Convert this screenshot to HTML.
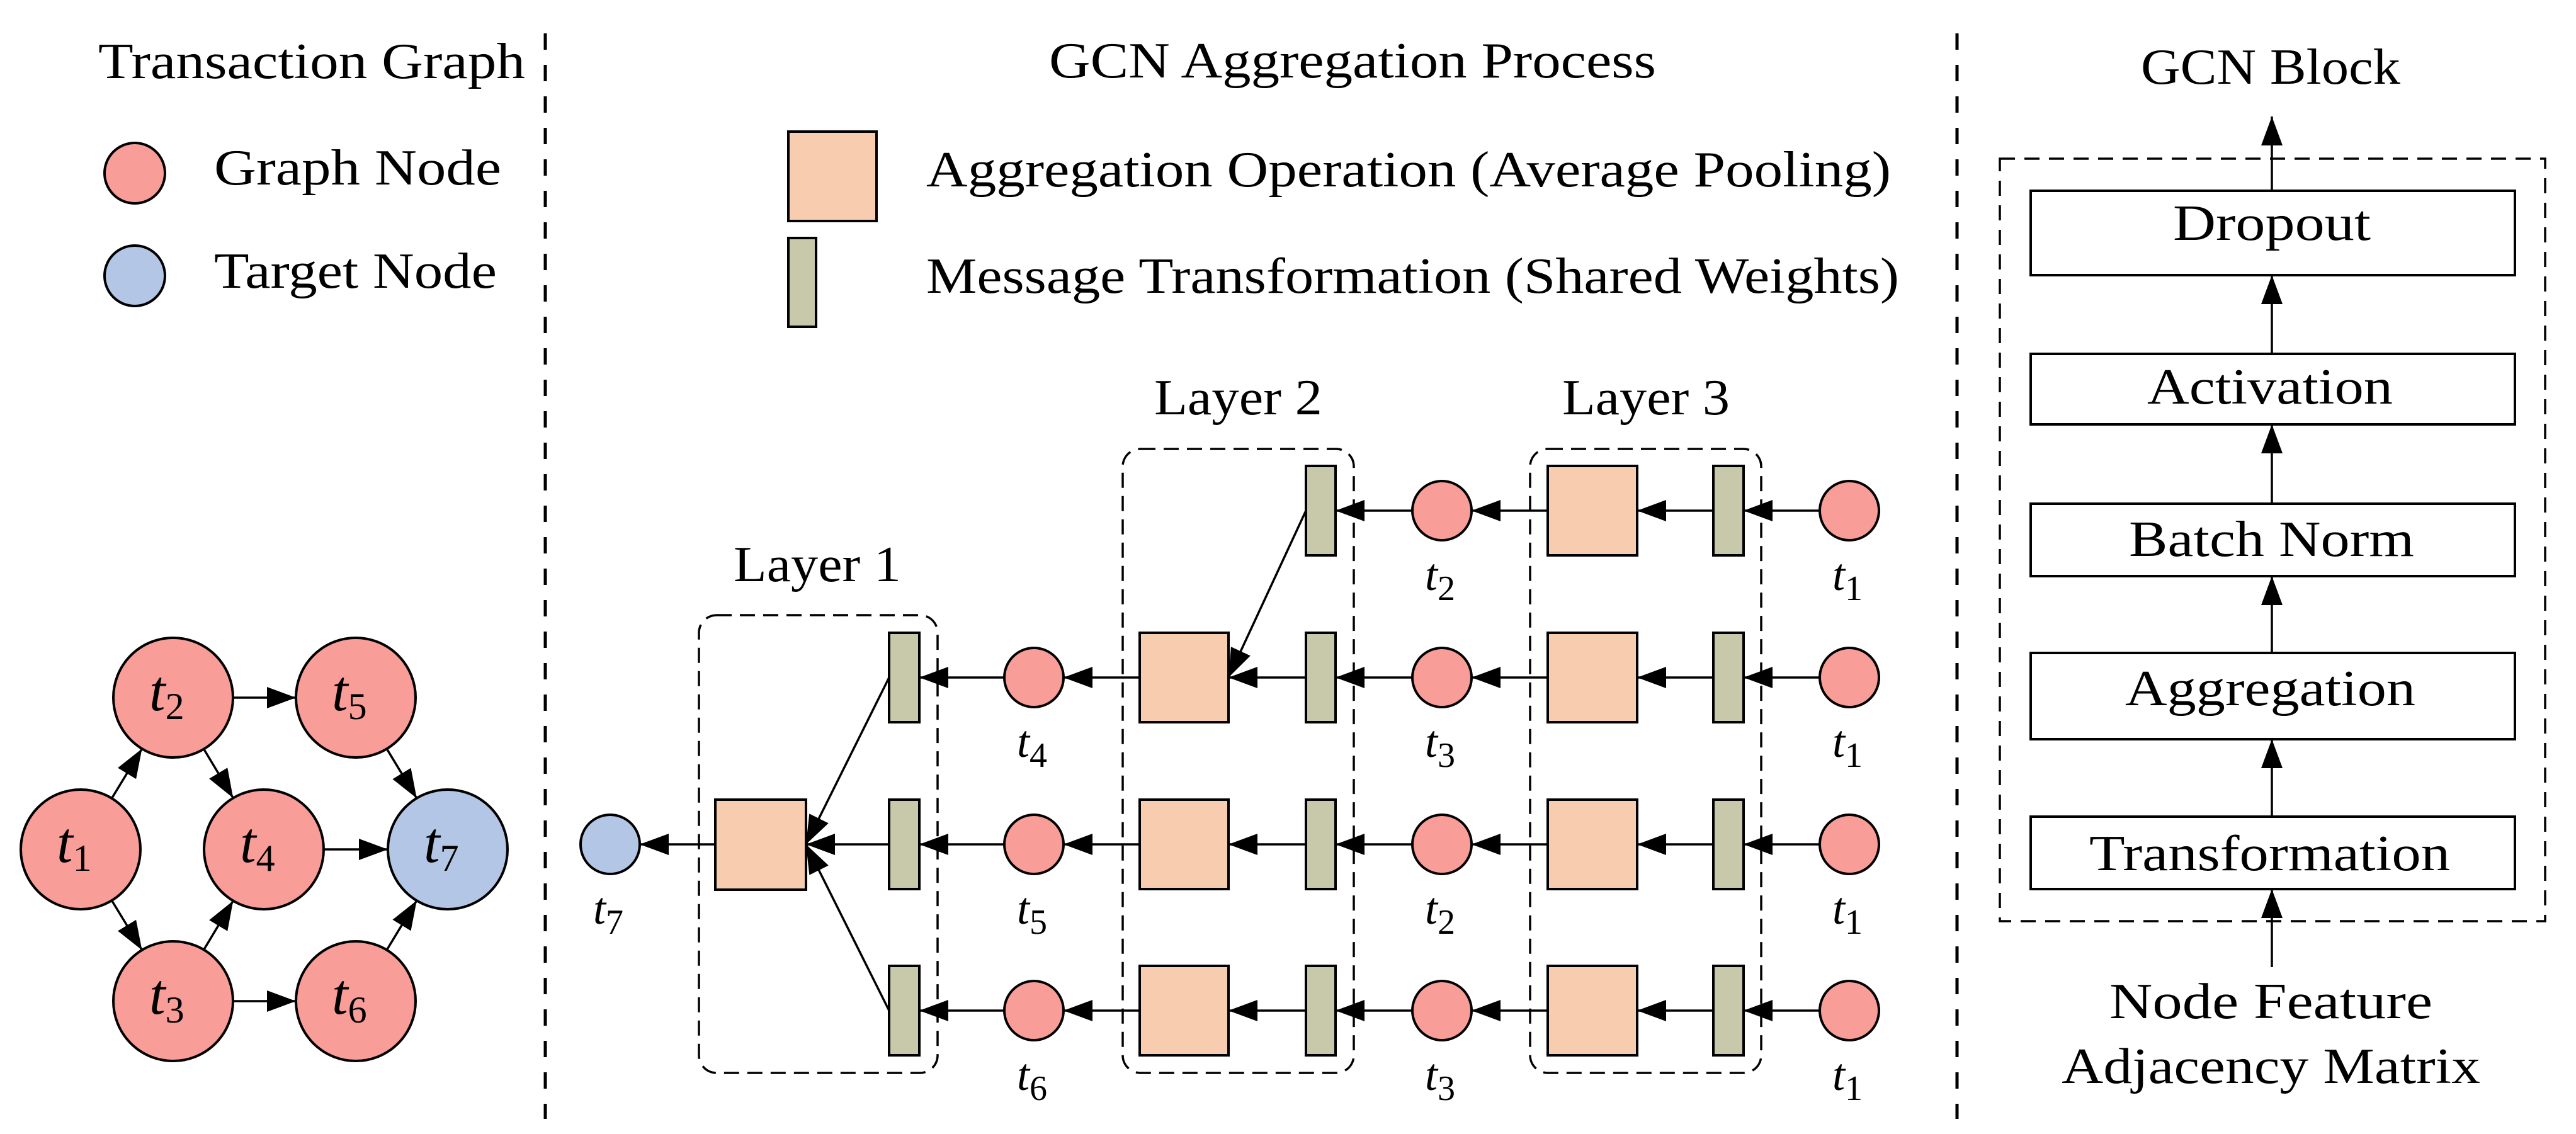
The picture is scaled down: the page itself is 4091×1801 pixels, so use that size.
<!DOCTYPE html>
<html><head><meta charset="utf-8"><style>
html,body{margin:0;padding:0;background:#fff;}
svg{display:block;}
text,tspan{font-family:"Liberation Serif",serif;fill:#000;}
.it{font-style:italic;font-family:"Liberation Serif",serif;}
</style></head><body>
<svg width="4091" height="1801" viewBox="0 0 4091 1801" xmlns="http://www.w3.org/2000/svg">
<defs>
<marker id="a" markerUnits="userSpaceOnUse" markerWidth="46" markerHeight="34" refX="46" refY="17" orient="auto">
<path d="M0,0 L46,17 L0,34 z" fill="#000"/>
</marker>
</defs>
<rect width="4091" height="1801" fill="#fff"/>

<line x1="866" y1="53" x2="866" y2="1777" stroke="#000" stroke-width="5" stroke-dasharray="26 24"/>
<line x1="3108" y1="53" x2="3108" y2="1777" stroke="#000" stroke-width="5" stroke-dasharray="26 24"/>

<text x="156" y="124" font-size="80" textLength="678" lengthAdjust="spacingAndGlyphs">Transaction Graph</text>
<circle cx="214" cy="275" r="48" fill="#F99D98" stroke="#000" stroke-width="4"/>
<text x="340" y="293" font-size="80" textLength="456" lengthAdjust="spacingAndGlyphs">Graph Node</text>
<circle cx="214" cy="438" r="48" fill="#B3C6E5" stroke="#000" stroke-width="4"/>
<text x="340" y="457" font-size="80" textLength="449" lengthAdjust="spacingAndGlyphs">Target Node</text>

<g stroke="#000" stroke-width="3.5" marker-end="url(#a)">
<line x1="177.5" y1="1267.9" x2="225.5" y2="1189.1"/>
<line x1="177.5" y1="1430.1" x2="225.5" y2="1508.9"/>
<line x1="323.7" y1="1189.6" x2="370.3" y2="1267.4"/>
<line x1="323.7" y1="1508.4" x2="370.3" y2="1430.6"/>
<line x1="370" y1="1108" x2="470" y2="1108"/>
<line x1="370" y1="1590" x2="470" y2="1590"/>
<line x1="514" y1="1349" x2="616" y2="1349"/>
<line x1="614.2" y1="1189.2" x2="661.8" y2="1267.8"/>
<line x1="614.2" y1="1508.8" x2="661.8" y2="1430.2"/>
</g>
<g stroke="#000" stroke-width="4">
<circle cx="128" cy="1349" r="95" fill="#F99D98"/>
<circle cx="275" cy="1108" r="95" fill="#F99D98"/>
<circle cx="275" cy="1590" r="95" fill="#F99D98"/>
<circle cx="419" cy="1349" r="95" fill="#F99D98"/>
<circle cx="565" cy="1108" r="95" fill="#F99D98"/>
<circle cx="565" cy="1590" r="95" fill="#F99D98"/>
<circle cx="711" cy="1349" r="95" fill="#B3C6E5"/>
</g>
<g font-size="92">
<text x="90" y="1369"><tspan class="it">t</tspan><tspan font-size="60" dy="14">1</tspan></text>
<text x="237" y="1128"><tspan class="it">t</tspan><tspan font-size="60" dy="14">2</tspan></text>
<text x="237" y="1610"><tspan class="it">t</tspan><tspan font-size="60" dy="14">3</tspan></text>
<text x="381" y="1369"><tspan class="it">t</tspan><tspan font-size="60" dy="14">4</tspan></text>
<text x="527" y="1128"><tspan class="it">t</tspan><tspan font-size="60" dy="14">5</tspan></text>
<text x="527" y="1610"><tspan class="it">t</tspan><tspan font-size="60" dy="14">6</tspan></text>
<text x="673" y="1369"><tspan class="it">t</tspan><tspan font-size="60" dy="14">7</tspan></text>
</g>

<text x="1666" y="123" font-size="80" textLength="964" lengthAdjust="spacingAndGlyphs">GCN Aggregation Process</text>
<rect x="1252" y="209" width="140" height="142" fill="#F8CDAF" stroke="#000" stroke-width="4"/>
<text x="1471" y="296" font-size="80" textLength="1532" lengthAdjust="spacingAndGlyphs">Aggregation Operation (Average Pooling)</text>
<rect x="1252" y="378" width="44" height="141" fill="#C8C8AA" stroke="#000" stroke-width="4"/>
<text x="1471" y="465" font-size="80" textLength="1545" lengthAdjust="spacingAndGlyphs">Message Transformation (Shared Weights)</text>

<text x="1165" y="923" font-size="80" textLength="266" lengthAdjust="spacingAndGlyphs">Layer 1</text>
<text x="1833" y="658" font-size="80" textLength="267" lengthAdjust="spacingAndGlyphs">Layer 2</text>
<text x="2481" y="658" font-size="80" textLength="266" lengthAdjust="spacingAndGlyphs">Layer 3</text>

<g fill="none" stroke="#000" stroke-width="3.5" stroke-dasharray="24 13">
<rect x="1110" y="977" width="379" height="727" rx="28"/>
<rect x="1783" y="713" width="367" height="991" rx="28"/>
<rect x="2430" y="713" width="367" height="991" rx="28"/>
</g>

<g stroke="#000" stroke-width="3.5" marker-end="url(#a)">
<line x1="2890" y1="811" x2="2769" y2="811"/>
<line x1="2721" y1="811" x2="2600" y2="811"/>
<line x1="2458" y1="811" x2="2337" y2="811"/>
<line x1="2243" y1="811" x2="2121" y2="811"/>
<line x1="2074" y1="811" x2="1951" y2="1076"/>

<line x1="2890" y1="1076" x2="2769" y2="1076"/>
<line x1="2721" y1="1076" x2="2600" y2="1076"/>
<line x1="2458" y1="1076" x2="2337" y2="1076"/>
<line x1="2243" y1="1076" x2="2121" y2="1076"/>
<line x1="2074" y1="1076" x2="1951" y2="1076"/>
<line x1="1810" y1="1076" x2="1689" y2="1076"/>
<line x1="1595" y1="1076" x2="1460" y2="1076"/>

<line x1="2890" y1="1341" x2="2769" y2="1341"/>
<line x1="2721" y1="1341" x2="2600" y2="1341"/>
<line x1="2458" y1="1341" x2="2337" y2="1341"/>
<line x1="2243" y1="1341" x2="2121" y2="1341"/>
<line x1="2074" y1="1341" x2="1951" y2="1341"/>
<line x1="1810" y1="1341" x2="1689" y2="1341"/>
<line x1="1595" y1="1341" x2="1460" y2="1341"/>

<line x1="2890" y1="1605" x2="2769" y2="1605"/>
<line x1="2721" y1="1605" x2="2600" y2="1605"/>
<line x1="2458" y1="1605" x2="2337" y2="1605"/>
<line x1="2243" y1="1605" x2="2121" y2="1605"/>
<line x1="2074" y1="1605" x2="1951" y2="1605"/>
<line x1="1810" y1="1605" x2="1689" y2="1605"/>
<line x1="1595" y1="1605" x2="1460" y2="1605"/>

<line x1="1412" y1="1076" x2="1280" y2="1341"/>
<line x1="1412" y1="1341" x2="1280" y2="1341"/>
<line x1="1412" y1="1605" x2="1280" y2="1341"/>
<line x1="1136" y1="1341" x2="1016" y2="1341"/>
</g>

<g stroke="#000" stroke-width="4">
<circle cx="2937" cy="811" r="47" fill="#F99D98"/>
<circle cx="2937" cy="1076" r="47" fill="#F99D98"/>
<circle cx="2937" cy="1341" r="47" fill="#F99D98"/>
<circle cx="2937" cy="1605" r="47" fill="#F99D98"/>
<rect x="2721" y="740" width="48" height="142" fill="#C8C8AA"/>
<rect x="2721" y="1005" width="48" height="142" fill="#C8C8AA"/>
<rect x="2721" y="1270" width="48" height="142" fill="#C8C8AA"/>
<rect x="2721" y="1534" width="48" height="142" fill="#C8C8AA"/>
<rect x="2458" y="740" width="142" height="142" fill="#F8CDAF"/>
<rect x="2458" y="1005" width="142" height="142" fill="#F8CDAF"/>
<rect x="2458" y="1270" width="142" height="142" fill="#F8CDAF"/>
<rect x="2458" y="1534" width="142" height="142" fill="#F8CDAF"/>
<circle cx="2290" cy="811" r="47" fill="#F99D98"/>
<circle cx="2290" cy="1076" r="47" fill="#F99D98"/>
<circle cx="2290" cy="1341" r="47" fill="#F99D98"/>
<circle cx="2290" cy="1605" r="47" fill="#F99D98"/>
<rect x="2074" y="740" width="47" height="142" fill="#C8C8AA"/>
<rect x="2074" y="1005" width="47" height="142" fill="#C8C8AA"/>
<rect x="2074" y="1270" width="47" height="142" fill="#C8C8AA"/>
<rect x="2074" y="1534" width="47" height="142" fill="#C8C8AA"/>
<rect x="1810" y="1005" width="141" height="142" fill="#F8CDAF"/>
<rect x="1810" y="1270" width="141" height="142" fill="#F8CDAF"/>
<rect x="1810" y="1534" width="141" height="142" fill="#F8CDAF"/>
<circle cx="1642" cy="1076" r="47" fill="#F99D98"/>
<circle cx="1642" cy="1341" r="47" fill="#F99D98"/>
<circle cx="1642" cy="1605" r="47" fill="#F99D98"/>
<rect x="1412" y="1005" width="48" height="142" fill="#C8C8AA"/>
<rect x="1412" y="1270" width="48" height="142" fill="#C8C8AA"/>
<rect x="1412" y="1534" width="48" height="142" fill="#C8C8AA"/>
<rect x="1136" y="1270" width="144" height="143" fill="#F8CDAF"/>
<circle cx="969" cy="1341" r="47" fill="#B3C6E5"/>
</g>

<g font-size="72">
<text x="2910" y="937"><tspan class="it">t</tspan><tspan font-size="56" dy="16">1</tspan></text>
<text x="2910" y="1202"><tspan class="it">t</tspan><tspan font-size="56" dy="16">1</tspan></text>
<text x="2910" y="1467"><tspan class="it">t</tspan><tspan font-size="56" dy="16">1</tspan></text>
<text x="2910" y="1731"><tspan class="it">t</tspan><tspan font-size="56" dy="16">1</tspan></text>
<text x="2263" y="937"><tspan class="it">t</tspan><tspan font-size="56" dy="16">2</tspan></text>
<text x="2263" y="1202"><tspan class="it">t</tspan><tspan font-size="56" dy="16">3</tspan></text>
<text x="2263" y="1467"><tspan class="it">t</tspan><tspan font-size="56" dy="16">2</tspan></text>
<text x="2263" y="1731"><tspan class="it">t</tspan><tspan font-size="56" dy="16">3</tspan></text>
<text x="1615" y="1202"><tspan class="it">t</tspan><tspan font-size="56" dy="16">4</tspan></text>
<text x="1615" y="1467"><tspan class="it">t</tspan><tspan font-size="56" dy="16">5</tspan></text>
<text x="1615" y="1731"><tspan class="it">t</tspan><tspan font-size="56" dy="16">6</tspan></text>
<text x="942" y="1467"><tspan class="it">t</tspan><tspan font-size="56" dy="16">7</tspan></text>
</g>

<text x="3400" y="133" font-size="80" textLength="412" lengthAdjust="spacingAndGlyphs">GCN Block</text>
<rect x="3176" y="252" width="866" height="1211" fill="none" stroke="#000" stroke-width="3.5" stroke-dasharray="24 15"/>
<g fill="#fff" stroke="#000" stroke-width="4">
<rect x="3225" y="303" width="769" height="134"/>
<rect x="3225" y="562" width="769" height="112"/>
<rect x="3225" y="800" width="769" height="115"/>
<rect x="3225" y="1037" width="769" height="137"/>
<rect x="3225" y="1297" width="769" height="115"/>
</g>
<g stroke="#000" stroke-width="3.5" marker-end="url(#a)">
<line x1="3608" y1="303" x2="3608" y2="185"/>
<line x1="3608" y1="562" x2="3608" y2="437"/>
<line x1="3608" y1="800" x2="3608" y2="674"/>
<line x1="3608" y1="1037" x2="3608" y2="915"/>
<line x1="3608" y1="1297" x2="3608" y2="1174"/>
<line x1="3608" y1="1536" x2="3608" y2="1412"/>
</g>
<g font-size="80">
<text x="3451" y="381" textLength="314" lengthAdjust="spacingAndGlyphs">Dropout</text>
<text x="3410" y="641" textLength="390" lengthAdjust="spacingAndGlyphs">Activation</text>
<text x="3381" y="883" textLength="453" lengthAdjust="spacingAndGlyphs">Batch Norm</text>
<text x="3375" y="1120" textLength="461" lengthAdjust="spacingAndGlyphs">Aggregation</text>
<text x="3318" y="1382" textLength="573" lengthAdjust="spacingAndGlyphs">Transformation</text>
<text x="3350" y="1617" textLength="513" lengthAdjust="spacingAndGlyphs">Node Feature</text>
<text x="3274" y="1720" textLength="665" lengthAdjust="spacingAndGlyphs">Adjacency Matrix</text>
</g>
</svg>
</body></html>
